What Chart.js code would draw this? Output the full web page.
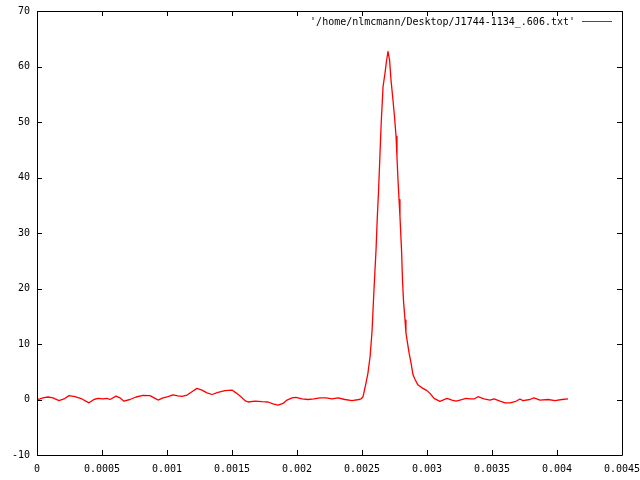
<!DOCTYPE html>
<html>
<head>
<meta charset="utf-8">
<script src="https://cdn.jsdelivr.net/npm/chart.js@4.4.1/dist/chart.umd.min.js"></script>
<style>
	html, body { margin: 0; padding: 0; background: #fff; }
	#wrap { width: 640px; height: 480px; }
</style>
</head>
<body>
<div id="wrap"><canvas id="profile" width="640" height="480"></canvas></div>
<script>
// time (s) and intensity
const times = [
	0, 0.0000231, 0.0000538, 0.0000846, 0.000123, 0.000169, 0.000208, 0.000246, 0.000292, 0.000346,
	0.000400, 0.000438, 0.000469, 0.000508, 0.000538, 0.000562, 0.000608, 0.000638, 0.000669, 0.000715,
	0.000762, 0.000815, 0.000869, 0.000908, 0.000931, 0.000969, 0.001008, 0.001046, 0.001085, 0.001115,
	0.001154, 0.001192, 0.001231, 0.001269, 0.001308, 0.001346, 0.001392, 0.001446, 0.0015, 0.001531,
	0.001569, 0.0016, 0.001623, 0.001677, 0.001731, 0.001777, 0.001815, 0.001854, 0.001892, 0.001923,
	0.001962, 0.001992, 0.002038, 0.002085, 0.002131, 0.002177, 0.002223, 0.002269, 0.002315, 0.002369,
	0.002423, 0.002477, 0.002492, 0.002508, 0.002531, 0.002546, 0.002562, 0.002577, 0.002592, 0.002608,
	0.002618, 0.002627, 0.002638, 0.002648, 0.002662, 0.002677, 0.002688, 0.0027, 0.002712, 0.002723,
	0.002738, 0.00275, 0.002762, 0.002769, 0.002777, 0.002785, 0.002792, 0.002804, 0.002812, 0.002819,
	0.002831, 0.002838, 0.00285, 0.002862, 0.002877, 0.002892, 0.002908, 0.002931, 0.002962, 0.003,
	0.003023, 0.003054, 0.0031, 0.003154, 0.003192, 0.003223, 0.003254, 0.0033, 0.003331, 0.003362,
	0.003392, 0.003438, 0.003485, 0.003515, 0.003562, 0.0036, 0.003638, 0.003677, 0.003715, 0.003738,
	0.003792, 0.003823, 0.003869, 0.003931, 0.003985, 0.004038, 0.004085
];
const intensity = [
	0.0, 0.1, 0.35, 0.45, 0.3, -0.2, 0.1, 0.7, 0.5, 0.1,
	-0.6, 0.0, 0.2, 0.1, 0.2, 0.0, 0.6, 0.3, -0.3, 0.0,
	0.45, 0.75, 0.7, 0.2, -0.1, 0.3, 0.5, 0.85, 0.65, 0.55,
	0.8, 1.4, 2.0, 1.7, 1.2, 0.9, 1.3, 1.6, 1.7, 1.2,
	0.5, -0.2, -0.45, -0.3, -0.4, -0.45, -0.8, -1.0, -0.7, -0.1,
	0.3, 0.4, 0.1, 0.0, 0.1, 0.3, 0.3, 0.1, 0.3, 0.0,
	-0.2, 0.0, 0.1, 0.5, 3.0, 4.8, 7.7, 12.2, 19.7, 27.0,
	33.0, 37.4, 44.0, 50.0, 56.4, 58.8, 60.9, 62.7, 61.2, 57.6,
	54.0, 51.0, 47.4, 43.7, 39.5, 36.0, 33.0, 27.0, 21.2, 17.9,
	14.3, 12.0, 10.2, 8.4, 6.6, 4.5, 3.6, 2.6, 2.1, 1.6,
	1.1, 0.2, -0.35, 0.2, -0.1, -0.3, -0.1, 0.2, 0.1, 0.1,
	0.5, 0.1, -0.1, 0.1, -0.3, -0.6, -0.6, -0.4, 0.1, -0.2,
	0.0, 0.3, -0.1, 0.0, -0.2, 0.0, 0.1
];
const seriesLabel = "'/home/nlmcmann/Desktop/J1744-1134_.606.txt'";
const xRange = [0, 0.0045];
const xStep = 0.0005;
const yRange = [-10, 70];
const yStep = 10;

const FONT = { family: "'DejaVu Sans Mono', monospace", size: 10 };

function fixBox(w, h) {
	return function (scale) {
		if (w !== null) scale.width = w;
		if (h !== null) scale.height = h;
		scale.paddingLeft = 0;
		scale.paddingRight = 0;
		scale.paddingTop = 0;
		scale.paddingBottom = 0;
	};
}

// gnuplot style frame, inward ticks on all sides, key at top right
var gnuFrame = {
	id: "gnuFrame",
	afterDraw: function (chart) {
		var c = chart.ctx;
		var a = chart.chartArea;
		var xs = chart.scales.x;
		var ys = chart.scales.y;
		var t = 5;
		c.save();
		c.strokeStyle = "#000";
		c.lineWidth = 1;
		c.beginPath();
		c.rect(Math.round(a.left) + 0.5, Math.round(a.top) + 0.5, Math.round(a.right - a.left), Math.round(a.bottom - a.top));
		xs.ticks.forEach(function (tk) {
			var px = Math.round(xs.getPixelForValue(tk.value)) + 0.5;
			c.moveTo(px, a.bottom);
			c.lineTo(px, a.bottom - t);
			c.moveTo(px, a.top);
			c.lineTo(px, a.top + t);
		});
		ys.ticks.forEach(function (tk) {
			var py = Math.round(ys.getPixelForValue(tk.value)) + 0.5;
			c.moveTo(a.left, py);
			c.lineTo(a.left + t, py);
			c.moveTo(a.right, py);
			c.lineTo(a.right - t, py);
		});
		c.stroke();

		var ds = chart.data.datasets[0];
		c.font = FONT.size + "px " + FONT.family;
		c.fillStyle = "#000";
		c.textAlign = "right";
		c.textBaseline = "middle";
		c.fillText(ds.label, a.right - 47, a.top + 11);
		c.strokeStyle = ds.borderColor;
		c.beginPath();
		c.moveTo(a.right - 40, a.top + 10.5);
		c.lineTo(a.right - 10, a.top + 10.5);
		c.stroke();
		c.restore();
	},
};

const ctx = document.getElementById("profile");
const myChart = new Chart(ctx, {
	type: "line",
	data: {
		datasets: [
			{
				label: seriesLabel,
				data: times.map(function (t, i) { return { x: t, y: intensity[i] }; }),
				borderColor: "#ff0000",
				borderWidth: 1.3,
				borderJoinStyle: "round",
				pointRadius: 0,
				tension: 0,
				fill: false,
			},
		],
	},
	options: {
		responsive: false,
		animation: false,
		layout: {
			padding: { left: 0, right: 18, top: 11, bottom: 0 },
		},
		plugins: {
			legend: { display: false },
			tooltip: { enabled: false },
		},
		scales: {
			x: {
				type: "linear",
				min: xRange[0],
				max: xRange[1],
				grid: { display: false, drawTicks: false },
				border: { display: false },
				afterFit: fixBox(null, 25),
				ticks: {
					stepSize: xStep,
					autoSkip: false,
					maxRotation: 0,
					padding: 8,
					color: "#000",
					font: FONT,
					callback: function (v) { return String(Number(v.toFixed(4))); },
				},
			},
			y: {
				min: yRange[0],
				max: yRange[1],
				grid: { display: false, drawTicks: false },
				border: { display: false },
				afterFit: fixBox(37, null),
				ticks: {
					stepSize: yStep,
					padding: 7,
					color: "#000",
					font: FONT,
				},
			},
		},
	},
	plugins: [gnuFrame],
});
</script>
</body>
</html>
